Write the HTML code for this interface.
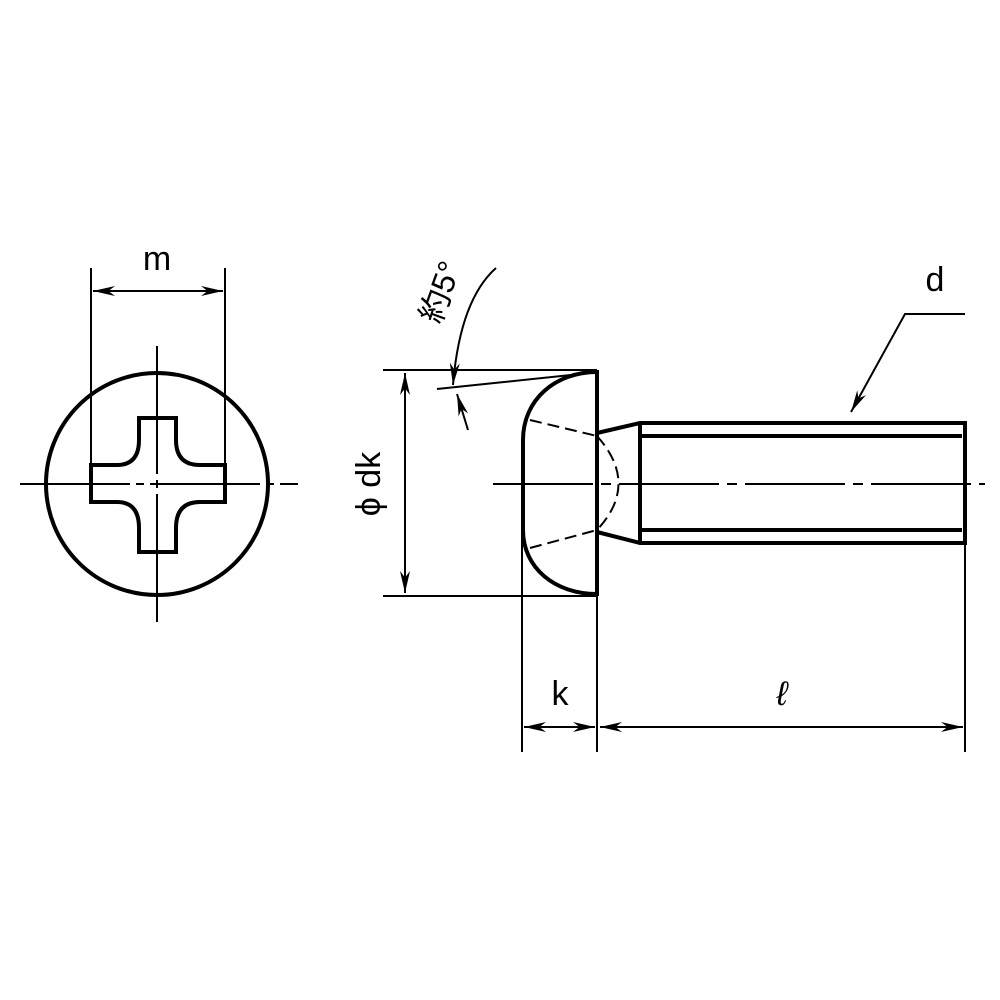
<!DOCTYPE html>
<html><head><style>body{margin:0;background:#fff}svg{display:block}</style></head><body>
<svg width="1000" height="1000" viewBox="0 0 1000 1000" xmlns="http://www.w3.org/2000/svg" font-family="Liberation Sans, Noto Sans CJK JP, sans-serif">
<defs>
<marker id="a" viewBox="0 0 10 10" refX="10" refY="5" markerWidth="22" markerHeight="10" markerUnits="userSpaceOnUse" orient="auto-start-reverse" preserveAspectRatio="none"><path d="M0,0 L10,5 L0,10 L3,5 Z" fill="#000"/></marker>
</defs>
<g stroke="#000" fill="none">
<circle cx="157" cy="484" r="111" stroke-width="4"/>
<line x1="20" y1="484" x2="298" y2="484" stroke-width="2" stroke-dasharray="110,6,8,6"/>
<line x1="157" y1="346" x2="157" y2="622" stroke-width="2" stroke-dasharray="128,6,8,6"/>
<path d="M91,465 H117 Q139,465 139,440 V418 H176 V440 Q176,465 200,465 H225 V502 H200 Q176,502 176,528 V552 H139 V528 Q139,502 117,502 H91 Z" stroke-width="4"/>
<line x1="91" y1="268" x2="91" y2="465" stroke-width="2"/>
<line x1="225" y1="268" x2="225" y2="465" stroke-width="2"/>
<line x1="93" y1="291" x2="223" y2="291" stroke-width="2" marker-start="url(#a)" marker-end="url(#a)"/>
<line x1="383" y1="370" x2="597" y2="370" stroke-width="2"/>
<line x1="383" y1="596" x2="597" y2="596" stroke-width="2"/>
<line x1="405" y1="373" x2="405" y2="593" stroke-width="2" marker-start="url(#a)" marker-end="url(#a)"/>
<path d="M597,370 V596" stroke-width="4"/>
<path d="M597,372 C555,372 523,400 523,440 V530 C523,568 555,594 597,594" stroke-width="4"/>
<line x1="437" y1="389" x2="590" y2="373" stroke-width="2"/>
<line x1="522" y1="510" x2="522" y2="752" stroke-width="2"/>
<line x1="597" y1="596" x2="597" y2="752" stroke-width="2"/>
<line x1="965" y1="543" x2="965" y2="752" stroke-width="2"/>
<path d="M530,420 L597,436 M530,548 L597,530" stroke-width="2" stroke-dasharray="12,6"/>
<path d="M597,436 Q640,484 597,530" stroke-width="2" stroke-dasharray="12,6"/>
<path d="M496,268 Q460,300 453,385" stroke-width="2" marker-end="url(#a)"/>
<line x1="468" y1="430" x2="457" y2="394" stroke-width="2" marker-end="url(#a)"/>
<path d="M597,433 L640,423 H965 V543 H640 L597,532" stroke-width="4"/>
<line x1="640" y1="423" x2="640" y2="543" stroke-width="4"/>
<line x1="640" y1="436" x2="962" y2="436" stroke-width="4"/>
<line x1="640" y1="530" x2="962" y2="530" stroke-width="4"/>
<line x1="493" y1="484" x2="985" y2="484" stroke-width="2" stroke-dasharray="100,8,10,8"/>
<line x1="524" y1="727" x2="595" y2="727" stroke-width="2" marker-start="url(#a)" marker-end="url(#a)"/>
<line x1="600" y1="727" x2="963" y2="727" stroke-width="2" marker-start="url(#a)" marker-end="url(#a)"/>
<path d="M965,314 H905 L851,412" stroke-width="2" marker-end="url(#a)"/>
</g>
<g fill="#000" stroke="none">
<text x="157" y="270" font-size="34" text-anchor="middle">m</text>
<text x="560" y="705" font-size="34" text-anchor="middle">k</text>
<text x="782" y="705" font-size="34" text-anchor="middle" font-style="italic">ℓ</text>
<text x="935" y="291" font-size="34" text-anchor="middle">d</text>
<text transform="translate(380,484) rotate(-90)" font-size="34" text-anchor="middle">ϕ dk</text>
<text transform="translate(440,325) rotate(-70)" font-size="32">約5°</text>
</g>
</svg>
</body></html>
